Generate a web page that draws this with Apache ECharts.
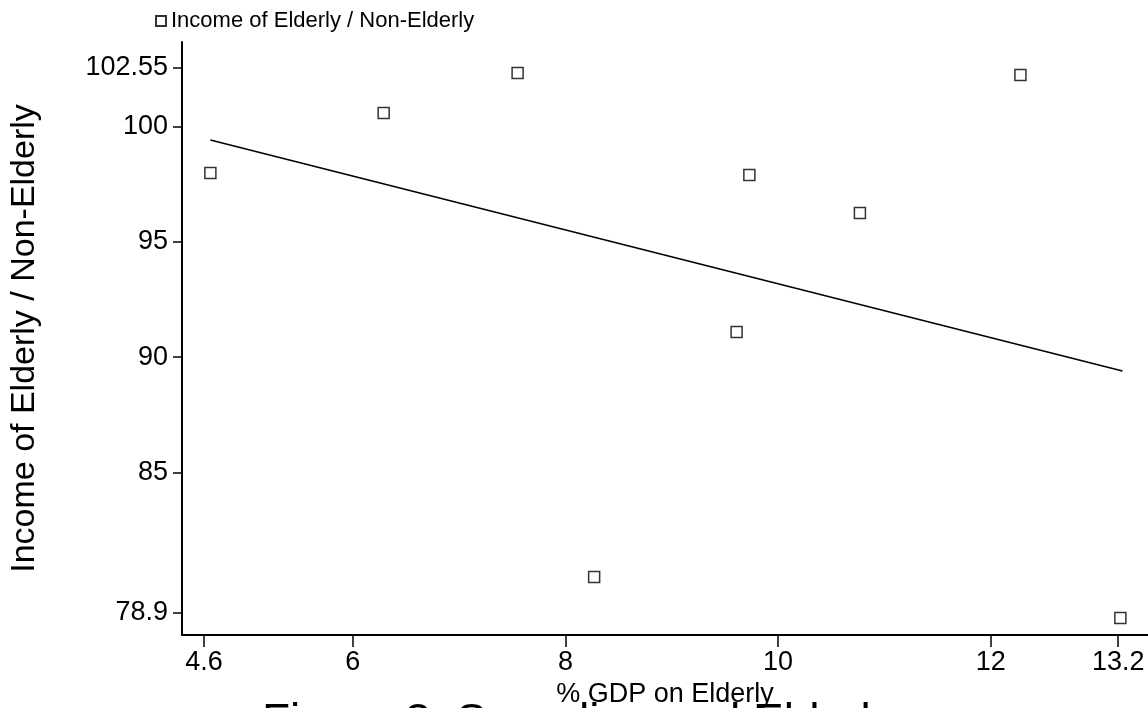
<!DOCTYPE html>
<html>
<head>
<meta charset="utf-8">
<script src="https://cdn.jsdelivr.net/npm/echarts@6/dist/echarts.min.js"></script>
<style>
html,body{margin:0;padding:0;background:#fff;}
#chart{width:1148px;height:708px;}
</style>
</head>
<body>
<div id="chart"></div>
<script>
// Data
const seriesName = 'Income of Elderly / Non-Elderly';
const gdpOnElderly = [4.66, 6.29, 7.55, 8.27, 9.61, 9.73, 10.77, 12.28, 13.22];
const incomeRatio = [97.99, 100.6, 102.33, 80.46, 91.09, 97.91, 96.26, 102.25, 78.68];
const fitX = [4.66, 13.24];
const fitY = [99.43, 89.40];
const xTickValues = [4.6, 6, 8, 10, 12, 13.2];
const yTickValues = [78.9, 85, 90, 95, 100, 102.55];
const xTitle = '% GDP on Elderly';
const yTitle = 'Income of Elderly / Non-Elderly';
const caption = 'Figure 3: Spending and Elderly';

const points = gdpOnElderly.map((x, i) => [x, incomeRatio[i]]);
const fitLine = fitX.map((x, i) => [x, fitY[i]]);

const font = 'Liberation Sans, Arial, Helvetica, sans-serif';
const chart = echarts.init(document.getElementById('chart'), null, {renderer: 'canvas'});
chart.setOption({
  animation: false,
  backgroundColor: '#ffffff',
  grid: {left: 182, right: 0, top: 42, bottom: 73, containLabel: false, outerBoundsMode: 'none'},
  legend: {
    data: [seriesName],
    left: 150, top: 5,
    itemWidth: 10, itemHeight: 10, itemGap: 10,
    textStyle: {fontFamily: font, fontSize: 22, color: '#000'}
  },
  xAxis: {
    type: 'value',
    min: 4.393, max: 13.48,
    name: xTitle,
    nameLocation: 'middle',
    nameGap: 41,
    nameTextStyle: {fontFamily: font, fontSize: 27, color: '#000'},
    axisLine: {show: true, lineStyle: {color: '#000', width: 2}},
    axisTick: {show: true, length: 12, customValues: xTickValues, lineStyle: {color: '#000', width: 1.5}},
    axisLabel: {customValues: xTickValues, margin: 14, fontFamily: font, fontSize: 27, color: '#000',
      formatter: v => String(v)},
    splitLine: {show: false}
  },
  yAxis: {
    type: 'value',
    min: 77.945, max: 103.68,
    name: yTitle,
    nameLocation: 'middle',
    nameGap: 140,
    nameRotate: 90,
    nameTextStyle: {fontFamily: font, fontSize: 34, color: '#000'},
    axisLine: {show: true, lineStyle: {color: '#000', width: 2}},
    axisTick: {show: true, length: 9, customValues: yTickValues, lineStyle: {color: '#000', width: 1.5}},
    axisLabel: {customValues: yTickValues, margin: 14, fontFamily: font, fontSize: 27, color: '#000',
      formatter: v => String(v)},
    splitLine: {show: false}
  },
  series: [
    {
      name: seriesName,
      type: 'scatter',
      data: points,
      symbol: 'rect',
      symbolSize: 11,
      itemStyle: {color: '#fff', borderColor: '#000', borderWidth: 1.5},
      z: 3
    },
    {
      name: 'fit',
      type: 'line',
      data: fitLine,
      showSymbol: false,
      symbol: 'none',
      lineStyle: {color: '#000', width: 1.6},
      z: 2
    }
  ],
  graphic: [
    {
      type: 'text',
      left: 262, top: 700,
      style: {text: caption, fontFamily: font, fontSize: 46, fill: '#000'}
    }
  ]
});
</script>
</body>
</html>
